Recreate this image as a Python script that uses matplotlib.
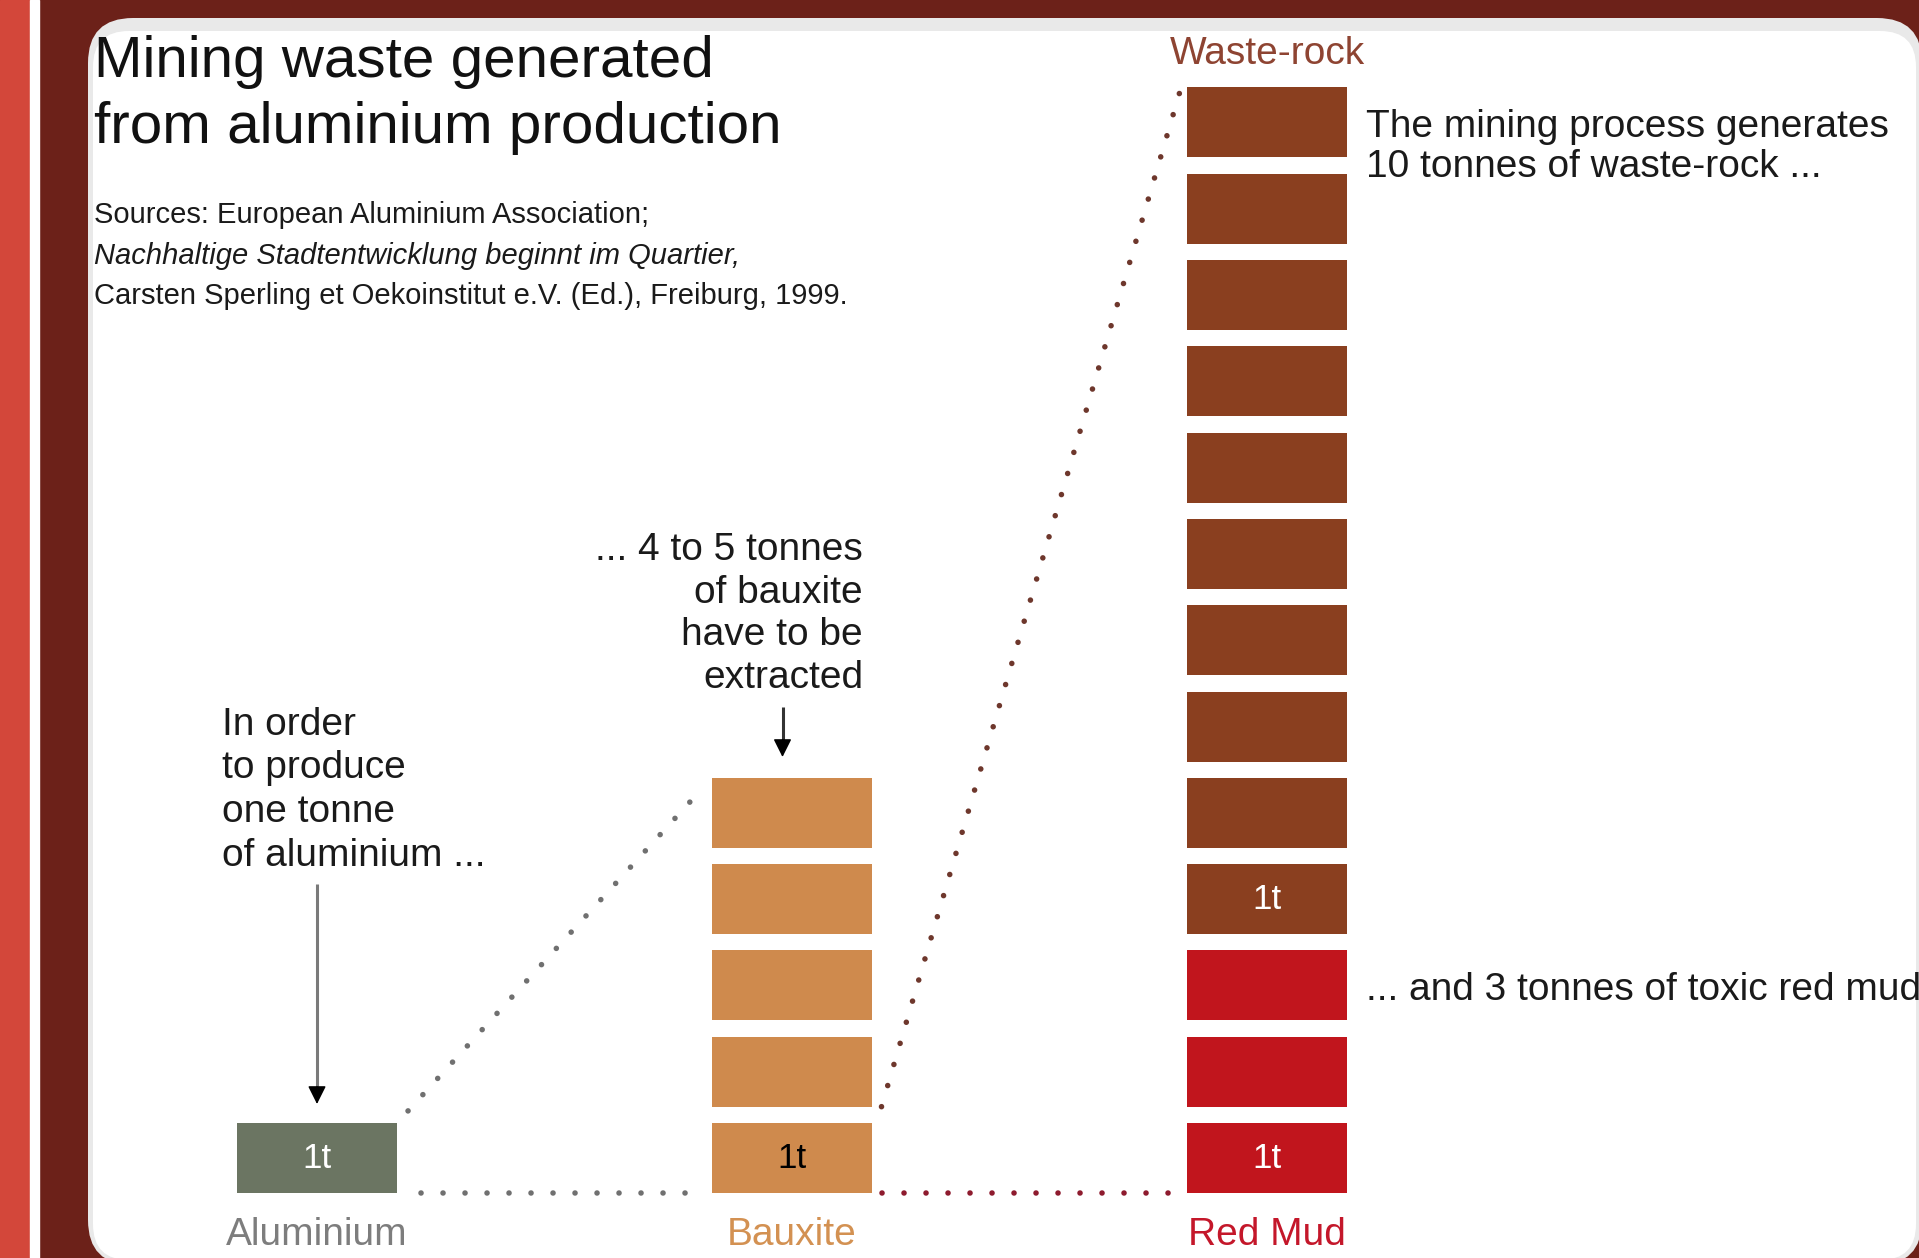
# mining_waste.py
# Recreation of "Mining waste generated from aluminium production"

import numpy as np
import matplotlib
matplotlib.use("Agg")
import matplotlib.pyplot as plt
from matplotlib import font_manager
from matplotlib.patches import Rectangle, FancyBboxPatch

# === Data (tonnes per tonne of aluminium) === #
columns = ["Aluminium", "Bauxite", "Red Mud"]
aluminium_t = 1
bauxite_t = 5
red_mud_t = 3
waste_rock_t = 10

intro_lines = ["In order", "to produce", "one tonne", "of aluminium ..."]
bauxite_lines = ["... 4 to 5 tonnes", "of bauxite", "have to be", "extracted"]
waste_lines = ["The mining process generates", "10 tonnes of waste-rock ..."]
red_mud_note = "... and 3 tonnes of toxic red mud"

title_lines = ["Mining waste generated", "from aluminium production"]
source_lines = ["Sources: European Aluminium Association;",
                "Nachhaltige Stadtentwicklung beginnt im Quartier,",
                "Carsten Sperling et Oekoinstitut e.V. (Ed.), Freiburg, 1999."]

# colours
c_alu, c_bau, c_waste, c_mud = "#6B7562", "#CF8A4D", "#8A3F1F", "#C1151D"
l_alu, l_bau, l_waste, l_mud = "#7D7D7D", "#D39152", "#8E4432", "#C4172A"

# fonts
installed = {f.name for f in font_manager.fontManager.ttflist}
if "Liberation Sans Narrow" in installed:
    NARROW, NSIZE = "Liberation Sans Narrow", 34
else:
    NARROW, NSIZE = "Liberation Sans", 28
REG = "Liberation Sans"

W, H = 1919, 1258
fig = plt.figure(figsize=(W / 100, H / 100), dpi=100)

# === Frame (photo-like background) === #
bg = fig.add_axes([0, 0, 1, 1])
bg.set_xlim(0, W)
bg.set_ylim(H, 0)
bg.axis("off")
bg.add_patch(Rectangle((0, 0), W, H, color="#6C2119"))
bg.add_patch(Rectangle((0, 0), 30, H, color="#D3473A"))
bg.add_patch(Rectangle((30, 0), 9, H, color="white"))
bg.add_patch(FancyBboxPatch((88, 18), W + 3 - 88, H + 7 - 18,
                            boxstyle="round,pad=0,rounding_size=45",
                            fc="#E9E9E9", ec="none"))
bg.add_patch(FancyBboxPatch((93, 31), W - 3 - 93, H + 2 - 31,
                            boxstyle="round,pad=0,rounding_size=36",
                            fc="white", ec="none"))

# === Chart axes: x = column index, y = tonnes === #
col_px, col_step = 317, 475
base_px, unit_px = 1193, 86.3
ax = fig.add_axes([0, 0, 1, 1])
ax.set_xlim(-col_px / col_step, (W - col_px) / col_step)
ax.set_ylim(-(H - base_px) / unit_px, base_px / unit_px)
ax.patch.set_alpha(0)
ax.axis("off")

bw = 160 / col_step   # block width
bh = 70 / unit_px     # block height (rest is the white gap)

ax.bar(np.zeros(aluminium_t), bh, bottom=np.arange(aluminium_t), width=bw, color=c_alu)
ax.bar(np.ones(bauxite_t), bh, bottom=np.arange(bauxite_t), width=bw, color=c_bau)
ax.bar(np.full(red_mud_t, 2), bh, bottom=np.arange(red_mud_t), width=bw, color=c_mud)
ax.bar(np.full(waste_rock_t, 2), bh, bottom=red_mud_t + np.arange(waste_rock_t),
       width=bw, color=c_waste)

# "1t" on the first tonne of each material
for x, y, col in [(0, 0, "white"), (1, 0, "black"), (2, 0, "white"), (2, red_mud_t, "white")]:
    ax.text(x, y + bh / 2, "1t", color=col, ha="center", va="center",
            fontsize=NSIZE * 0.9, family=NARROW)

# column labels
lab_y = -(1245 - base_px) / unit_px
for x, name, col in zip(range(3), columns, [l_alu, l_bau, l_mud]):
    ax.text(x, lab_y, name, color=col, ha="center", va="baseline",
            fontsize=NSIZE, family=NARROW)
ax.text(2, (base_px - 64) / unit_px, "Waste-rock",
        color=l_waste, ha="center", va="baseline", fontsize=NSIZE, family=NARROW)

# === Dotted connectors === #
dot = dict(lw=4, linestyle=(0, (0.01, 3.95)), dash_capstyle="round")


def dotted(p0, p1, color, shrink=0.0):
    p0, p1 = np.array(p0, float), np.array(p1, float)
    d = p1 - p0
    a, b = p0 + d * shrink, p1 - d * shrink
    ax.plot([a[0], b[0]], [a[1], b[1]], color=color, **dot)


top_bau = bauxite_t - 1 + bh
top_col3 = red_mud_t + waste_rock_t - 1 + bh
dotted((bw / 2, bh), (1 - bw / 2, top_bau), "#707070", 0.035)
dotted((bw / 2 + 0.05, 0), (1 - bw / 2 - 0.02, 0), "#707070")
dotted((1 + bw / 2 + 0.02, 0), (2 - bw / 2 - 0.01, 0), "#8E1B2E")
dotted((1 + bw / 2 + 0.02, 1), (2 - bw / 2 - 0.015, top_col3 - 0.05), "#6E372C")

# === Arrows === #
def arrow(x, y0, y1, shaft):
    ax.plot([x, x], [y0, y1 + 0.15], color=shaft, lw=2.2, solid_capstyle="butt")
    ax.annotate("", xy=(x, y1), xytext=(x, y1 + 0.2),
                arrowprops=dict(arrowstyle="-|>", color="black", lw=1,
                                mutation_scale=28, shrinkA=0, shrinkB=0))


arrow(0, (base_px - 884) / unit_px, (base_px - 1104) / unit_px, "#7A7A7A")
arrow(0.98, (base_px - 707) / unit_px, (base_px - 757) / unit_px, "#333333")

# === Annotations === #
for i, s in enumerate(intro_lines):
    ax.text((222 - col_px) / col_step, (base_px - 735 - 43.5 * i) / unit_px, s,
            ha="left", va="baseline", fontsize=NSIZE, family=NARROW, color="#1A1A1A")
for i, s in enumerate(bauxite_lines):
    ax.text((863 - col_px) / col_step, (base_px - 560 - 42.7 * i) / unit_px, s,
            ha="right", va="baseline", fontsize=NSIZE, family=NARROW, color="#1A1A1A")
for i, s in enumerate(waste_lines):
    ax.text((1366 - col_px) / col_step, (base_px - 137 - 40 * i) / unit_px, s,
            ha="left", va="baseline", fontsize=NSIZE, family=NARROW, color="#1A1A1A")
ax.text((1366 - col_px) / col_step, (base_px - 1000) / unit_px, red_mud_note,
        ha="left", va="baseline", fontsize=NSIZE, family=NARROW, color="#1A1A1A")

# === Title and sources === #
for i, s in enumerate(title_lines):
    fig.text(94 / W, 1 - (77 + 66 * i) / H, s, ha="left", va="baseline",
             fontsize=42, family=REG, color="#111111")
for i, s in enumerate(source_lines):
    fig.text(94 / W, 1 - (223 + 40.5 * i) / H, s, ha="left", va="baseline",
             fontsize=21, family=REG, color="#1A1A1A",
             style="italic" if i == 1 else "normal")

fig.savefig("out.png", dpi=100)
